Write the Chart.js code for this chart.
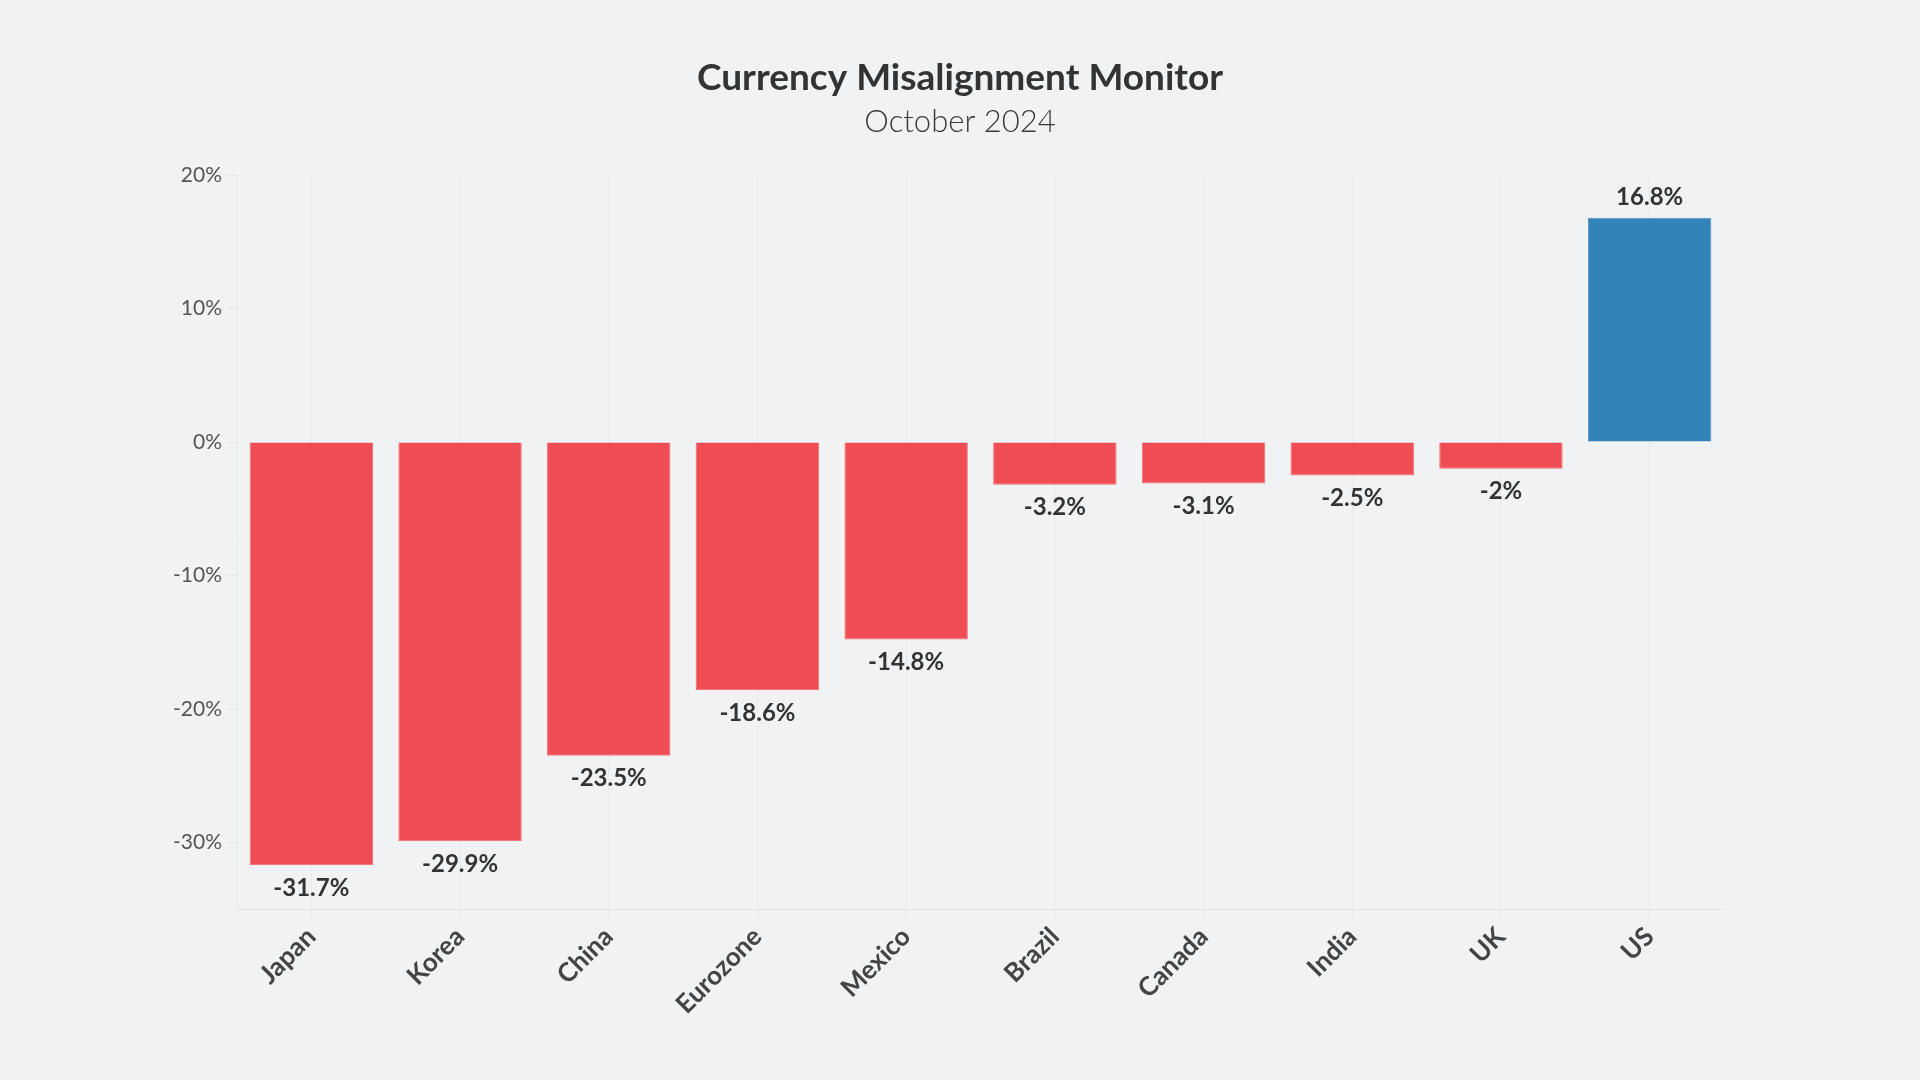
<!DOCTYPE html>
<html>
<head>
<meta charset="utf-8">
<script src="https://cdn.jsdelivr.net/npm/chart.js@4.4.1/dist/chart.umd.min.js"></script>
<style>
  html, body { margin: 0; padding: 0; background: #f1f2f4; }
  #wrap { width: 1920px; height: 1080px; }
</style>
</head>
<body>
<div id="wrap"><canvas id="myChart" width="1920" height="1080"></canvas></div>
<script>
// data
const countries = ['Japan', 'Korea', 'China', 'Eurozone', 'Mexico', 'Brazil', 'Canada', 'India', 'UK', 'US'];
const misalignment = [-31.7, -29.9, -23.5, -18.6, -14.8, -3.2, -3.1, -2.5, -2, 16.8];
const yTicks = [20, 10, 0, -10, -20, -30];
const chartTitle = 'Currency Misalignment Monitor';
const chartSubtitle = 'October 2024';

const FONT = 'Lato, "Noto Sans", sans-serif';

// title + subtitle centred on the whole canvas
const headings = {
  id: 'headings',
  afterDraw(chart) {
    const ctx = chart.ctx;
    const cx = chart.width / 2;
    ctx.save();
    ctx.textAlign = 'center';
    ctx.textBaseline = 'middle';
    ctx.fillStyle = '#333333';
    ctx.font = 'bold 37px ' + FONT;
    ctx.fillText(chartTitle, cx, 78);
    ctx.fillStyle = '#3a3a3a';
    ctx.font = '300 31px ' + FONT;
    ctx.fillText(chartSubtitle, cx, 122);
    ctx.restore();
  }
};

// value labels above / below each bar
const barLabels = {
  id: 'barLabels',
  afterDatasetsDraw(chart) {
    const ctx = chart.ctx;
    const meta = chart.getDatasetMeta(0);
    ctx.save();
    ctx.font = 'bold 24px ' + FONT;
    ctx.fillStyle = '#333333';
    ctx.textAlign = 'center';
    ctx.textBaseline = 'middle';
    meta.data.forEach(function (bar, i) {
      const v = misalignment[i];
      const y = v < 0 ? bar.y + 23 : bar.y - 20;
      ctx.fillText(v + '%', bar.x, y);
    });
    ctx.restore();
  }
};

const ctx = document.getElementById('myChart');
const myChart = new Chart(ctx, {
  type: 'bar',
  data: {
    labels: countries,
    datasets: [{
      data: misalignment,
      backgroundColor: misalignment.map(v => v < 0 ? 'rgba(238, 66, 74, 0.95)' : 'rgba(38, 124, 180, 0.95)'),
      borderColor: misalignment.map(v => v < 0 ? 'rgba(245, 110, 115, 1)' : 'rgba(90, 150, 200, 1)'),
      borderWidth: 1,
      categoryPercentage: 1,
      barPercentage: 0.83
    }]
  },
  options: {
    responsive: false,
    animation: false,
    layout: { padding: { left: 147, right: 196, top: 175, bottom: 58 } },
    plugins: {
      legend: { display: false },
      tooltip: { enabled: false }
    },
    scales: {
      x: {
        grid: { color: 'rgba(0,0,0,0.035)', offset: false, drawOnChartArea: true, tickLength: 10 },
        border: { color: 'rgba(0,0,0,0.06)' },
        ticks: {
          color: '#444444',
          font: { family: FONT, size: 26, weight: 'bold' },
          maxRotation: 45,
          minRotation: 45,
          padding: 2
        }
      },
      y: {
        min: -35,
        max: 20,
        afterBuildTicks: function (scale) {
          scale.ticks = yTicks.map(v => ({ value: v }));
        },
        afterFit: function (scale) {
          scale.width = 90;
        },
        grid: { drawOnChartArea: false, color: 'rgba(0,0,0,0.05)', tickLength: 10 },
        border: { color: 'rgba(0,0,0,0.04)' },
        ticks: {
          color: '#555555',
          font: { family: FONT, size: 21, weight: 'normal' },
          padding: 5,
          callback: v => v + '%'
        }
      }
    }
  },
  plugins: [barLabels, headings]
});
</script>
</body>
</html>
